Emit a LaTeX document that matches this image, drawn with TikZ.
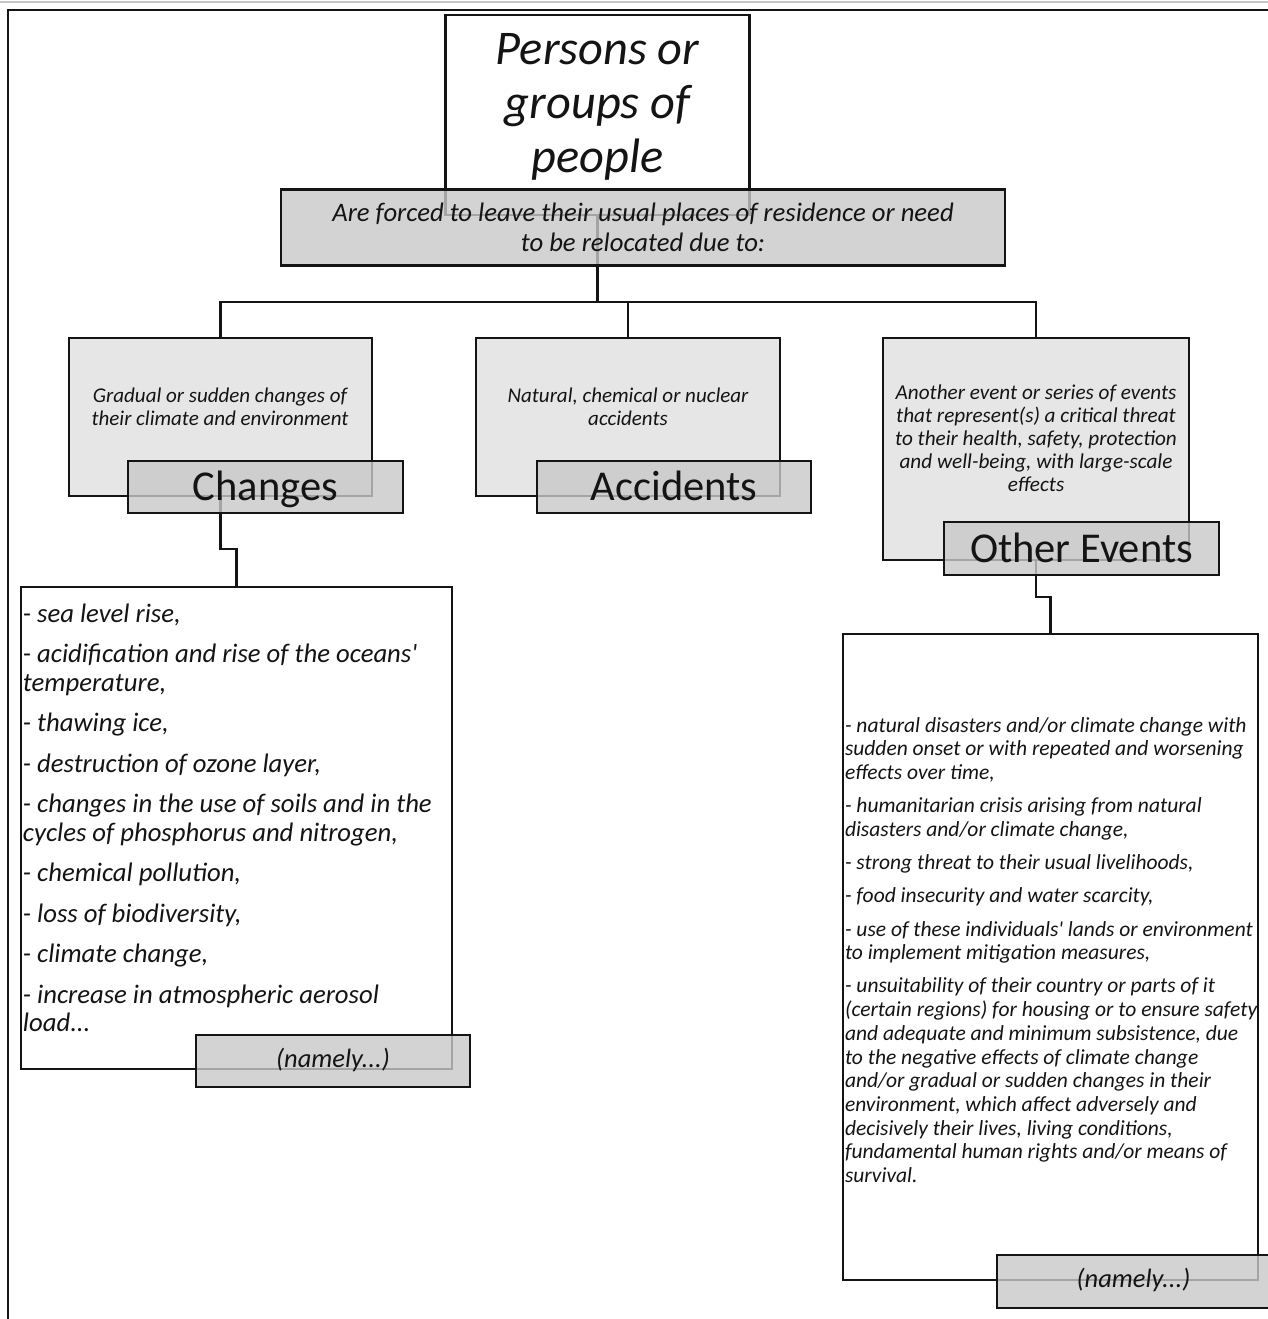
\documentclass[tikz,border=0pt]{standalone}
\usepackage{fontspec}
\setmainfont{Carlito}
\newcommand\fsz[2]{\fontsize{#1}{#2}\selectfont}
\definecolor{descgray}{RGB}{230,230,230}
\definecolor{taggray}{RGB}{200,200,200}
\definecolor{ink}{RGB}{20,20,20}
\tikzset{
  box/.style={draw=ink, line width=2.5pt, rectangle, inner sep=0pt, outer sep=0pt},
  whitebox/.style={box, fill=white},
  descbox/.style={box, fill=descgray},
  tagbox/.style={box, fill=taggray, fill opacity=0.8, text opacity=1, text=ink},
  conn/.style={draw=ink, line width=2.5pt},
  txt/.style={inner sep=0pt, outer sep=0pt, align=center, text=ink},
  bigtag/.style={tagbox, font=\fsz{42.5}{50}, text height=27pt, text depth=0pt},
  namelytag/.style={tagbox, font=\itshape\fsz{26.5}{30}, text height=18pt, text depth=6pt}
}
\begin{document}
\begin{tikzpicture}[x=1pt,y=-1pt]
\path[fill=white, use as bounding box] (0,0) rectangle (1268,1319);
\draw[draw=gray!45, line width=1.5pt] (0,2) -- (1268,2);
\draw[draw=ink, line width=2.5pt] (8,1325) -- (8,10) -- (1275,10);

% boxes
\node[whitebox, minimum width=304pt, minimum height=200pt] (persons) at (597.6,115) {};
\node[descbox, minimum width=303pt, minimum height=158pt] (desc1) at (220.5,417) {};
\node[descbox, minimum width=304pt, minimum height=158pt] (desc2) at (628,417) {};
\node[descbox, minimum width=306pt, minimum height=222pt] (desc3) at (1036,449) {};
\node[whitebox, minimum width=431pt, minimum height=482pt] (list1) at (236.5,828) {};
\node[whitebox, minimum width=415pt, minimum height=646pt] (list2) at (1050.5,957) {};

% connectors
\coordinate (bus) at (597.6,302);
\coordinate (k1) at (220.5,549);
\coordinate (k3) at (1036,597);
\draw[conn] (persons.south) -- (bus);
\draw[conn] (desc1.north) |- (bus) -| (desc3.north);
\draw[conn] (desc2.north) -- (desc2.north |- bus);
\draw[conn] (desc1.south) -- (k1) -| (list1.north);
\draw[conn] (desc3.south) -- (k3) -| (list2.north);

% semi-transparent gray boxes
\node[tagbox, minimum width=724pt, minimum height=76pt, align=center, font=\itshape\fsz{26.7}{30}] (forced) at (643,227.5)
  {Are forced to leave their usual places of residence or need\\to be relocated due to:};
\node[bigtag, minimum width=275pt, minimum height=52pt] (lab1) at (265.5,487) {Changes};
\node[bigtag, minimum width=274pt, minimum height=52pt] (lab2) at (674,487) {Accidents};
\node[bigtag, minimum width=275pt, minimum height=53pt] (lab3) at (1081.5,548.5) {Other Events};
\node[namelytag, minimum width=274pt, minimum height=52pt] (namely1) at (333,1061) {(namely...)};
\node[namelytag, minimum width=273pt, minimum height=53pt] (namely2) at (1133.5,1281.5) {(namely...)};

% texts
\node[txt, font=\itshape\fsz{48.4}{54}] (personsT) at (597.6,107) {Persons or\\groups of\\people};
\node[txt, font=\itshape\fsz{21}{23}] (desc1T) at (220,407) {Gradual or sudden changes of\\their climate and environment};
\node[txt, font=\itshape\fsz{21}{23}] (desc2T) at (628,407) {Natural, chemical or nuclear\\accidents};
\node[txt, font=\itshape\fsz{21.2}{23}] (desc3T) at (1036,438.5) {Another event or series of events\\that represent(s) a critical threat\\to their health, safety, protection\\and well-being, with large-scale\\effects};
\node[txt, align=left, anchor=west, font=\itshape\fsz{26.7}{28.5}] (list1T) at (23,818) {%
- sea level rise,\\[12pt]
- acidification and rise of the oceans\textquotesingle\\
temperature,\\[12pt]
- thawing ice,\\[12pt]
- destruction of ozone layer,\\[12pt]
- changes in the use of soils and in the\\
cycles of phosphorus and nitrogen,\\[12pt]
- chemical pollution,\\[12pt]
- loss of biodiversity,\\[12pt]
- climate change,\\[12pt]
- increase in atmospheric aerosol\\
load...};
\node[txt, align=left, anchor=west, font=\itshape\fsz{21.5}{23.7}] (list2T) at (845,950) {%
- natural disasters and/or climate change with\\
sudden onset or with repeated and worsening\\
effects over time,\\[9.5pt]
- humanitarian crisis arising from natural\\
disasters and/or climate change,\\[9.5pt]
- strong threat to their usual livelihoods,\\[9.5pt]
- food insecurity and water scarcity,\\[9.5pt]
- use of these individuals\textquotesingle{} lands or environment\\
to implement mitigation measures,\\[9.5pt]
- unsuitability of their country or parts of it\\
(certain regions) for housing or to ensure safety\\
and adequate and minimum subsistence, due\\
to the negative effects of climate change\\
and/or gradual or sudden changes in their\\
environment, which affect adversely and\\
decisively their lives, living conditions,\\
fundamental human rights and/or means of\\
survival.};
\end{tikzpicture}
\end{document}
